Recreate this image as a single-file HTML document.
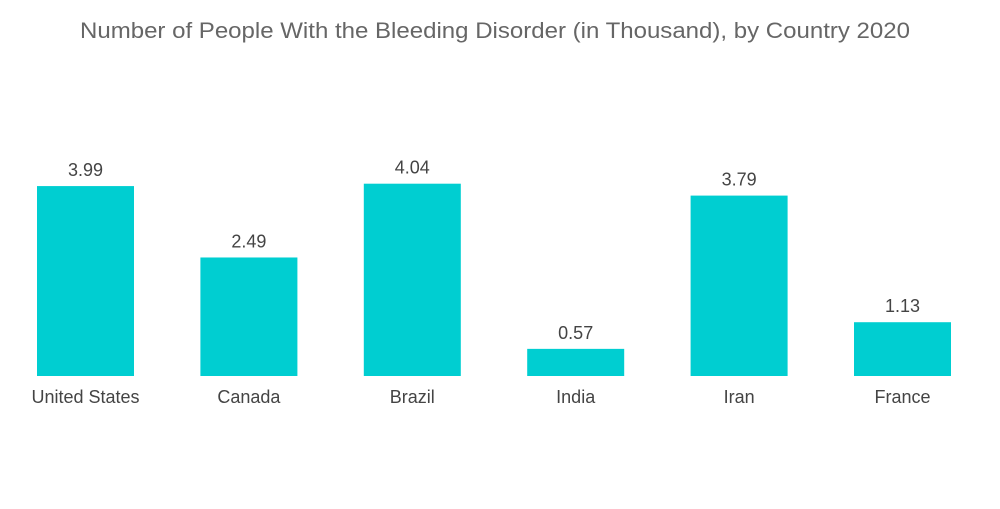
<!DOCTYPE html>
<html><head><meta charset="utf-8"><style>
body{margin:0;background:#fff;width:1000px;height:504px;overflow:hidden;font-family:"Liberation Sans",sans-serif}
</style></head><body>
<svg id="chart" width="1000" height="504" xmlns="http://www.w3.org/2000/svg">
<text x="495" y="38" text-anchor="middle" font-size="22" fill="#666" textLength="830" lengthAdjust="spacingAndGlyphs">Number of People With the Bleeding Disorder (in Thousand), by Country 2020</text>
<g id="bars"></g>
</svg>
<script>
const categories=["United States","Canada","Brazil","India","Iran","France"];
const values=[3.99,2.49,4.04,0.57,3.79,1.13];
const valueLabels=["3.99","2.49","4.04","0.57","3.79","1.13"];
const baseY=376, pxPerUnit=47.6, x0=37, step=163.4, bw=97;
function xPos(i){return x0+i*step;}
function yPos(v){return baseY-v*pxPerUnit;}
const g=document.getElementById('bars');
const ns="http://www.w3.org/2000/svg";
categories.forEach((c,i)=>{
  const r=document.createElementNS(ns,'rect');
  r.setAttribute('x',xPos(i));r.setAttribute('y',yPos(values[i]));
  r.setAttribute('width',bw);r.setAttribute('height',baseY-yPos(values[i]));
  r.setAttribute('fill','#00ced1');
  
  
  g.appendChild(r);
  const t=document.createElementNS(ns,'text');
  t.setAttribute('x',xPos(i)+bw/2);t.setAttribute('y',yPos(values[i])-10);
  t.setAttribute('text-anchor','middle');t.setAttribute('font-size','18');t.setAttribute('fill','#444');
  t.textContent=valueLabels[i];
  
  
  g.appendChild(t);
  const l=document.createElementNS(ns,'text');
  l.setAttribute('x',xPos(i)+bw/2);l.setAttribute('y',403);
  l.setAttribute('text-anchor','middle');l.setAttribute('font-size','18');l.setAttribute('fill','#444');
  l.textContent=c;
  
  
  g.appendChild(l);
});
</script>
</body></html>
